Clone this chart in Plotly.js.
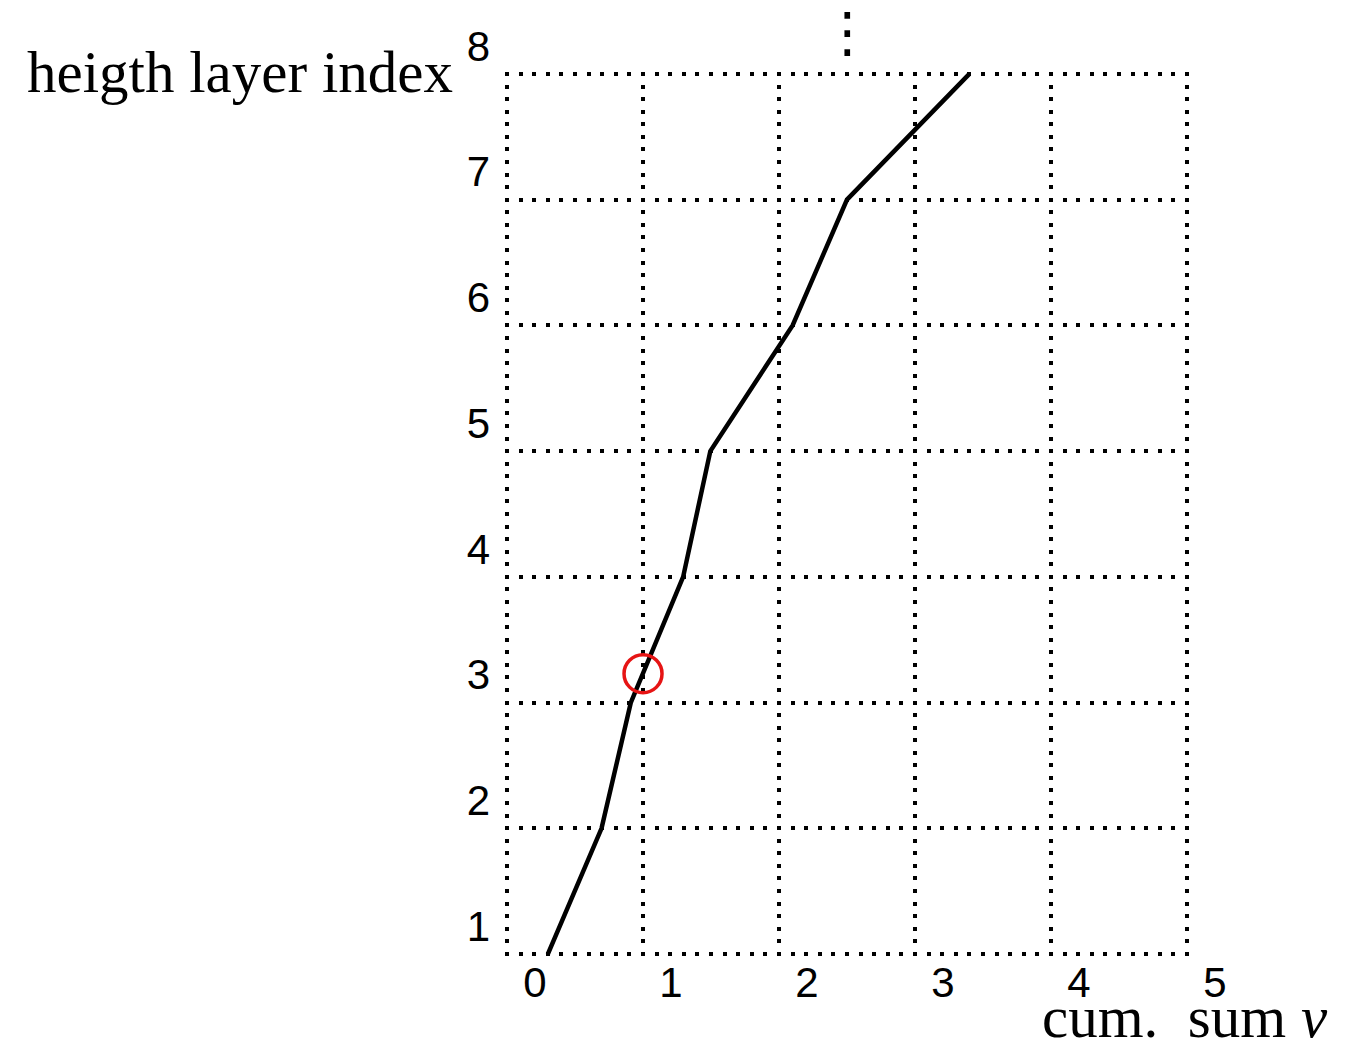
<!DOCTYPE html>
<html>
<head>
<meta charset="utf-8">
<script src="https://cdn.plot.ly/plotly-3.0.1.min.js"></script>
<style>html,body{margin:0;padding:0;background:#fff;}#chart{width:1372px;height:1041px;}</style>
</head>
<body>
<div id="chart"></div>
<script>
// Data
const layerIndex = [1, 2, 3, 4, 5, 6, 7, 8];
const cumSumV = [0.30, 0.695, 0.91, 1.295, 1.495, 2.10, 2.50, 3.40];
const markX = [1.0];
const markY = [3.23];
const xTicks = [0, 1, 2, 3, 4, 5];
const yTicks = [1, 2, 3, 4, 5, 6, 7, 8];

const lineTrace = {
  x: cumSumV, y: layerIndex, type: 'scatter', mode: 'lines',
  line: {color: '#000', width: 4.5}, hoverinfo: 'skip', cliponaxis: false
};
const markTrace = {
  x: markX, y: markY, type: 'scatter', mode: 'markers',
  marker: {symbol: 'circle-open', size: 38, color: 'rgb(230,20,20)', line: {width: 3.5, color: 'rgb(230,20,20)'}},
  hoverinfo: 'skip', cliponaxis: false
};

const tickFont = {family: 'Liberation Sans, Arial, sans-serif', size: 42, color: '#000'};
const serif = {family: 'Liberation Serif, Times New Roman, serif', size: 59, color: '#000'};

const layout = {
  width: 1372, height: 1041,
  margin: {l: 505, r: 183, t: 72, b: 85, pad: 0},
  paper_bgcolor: '#fff', plot_bgcolor: '#fff',
  showlegend: false,
  xaxis: {
    range: [-0.015, 5.015], tickvals: xTicks, ticktext: xTicks.map(String),
    showgrid: true, gridcolor: '#000', gridwidth: 4, griddash: '4px,8.57px',
    zeroline: false, showline: false, ticks: '',
    tickfont: tickFont, ticklabelshift: 28, ticklabelstandoff: -2,
    fixedrange: true
  },
  yaxis: {
    range: [0.985, 8.015], tickvals: yTicks, ticktext: yTicks.map(String),
    showgrid: true, gridcolor: '#000', gridwidth: 4, griddash: '4px,9.6px',
    zeroline: false, showline: false, ticks: '',
    tickfont: tickFont, ticklabelshift: -28, ticklabelstandoff: 14,
    fixedrange: true
  },
  annotations: [
    {text: 'heigth layer index', xref: 'paper', yref: 'paper', x: 0, y: 1,
     xanchor: 'right', yanchor: 'middle', xshift: -50, yshift: 0, showarrow: false, font: serif},
    {text: 'cum.  sum <i>v</i>', xref: 'paper', yref: 'paper', x: 1, y: 0,
     xanchor: 'right', yanchor: 'middle', xshift: 141, yshift: -61, showarrow: false, font: serif},
    {text: '⋮', xref: 'x', yref: 'paper', x: 2.5, y: 1, xanchor: 'center', yanchor: 'bottom',
     yshift: 6, showarrow: false, font: {family: 'DejaVu Sans', size: 55, color: '#000'}}
  ]
};

Plotly.newPlot('chart', [lineTrace, markTrace], layout, {displayModeBar: false, staticPlot: true});
</script>
</body>
</html>
